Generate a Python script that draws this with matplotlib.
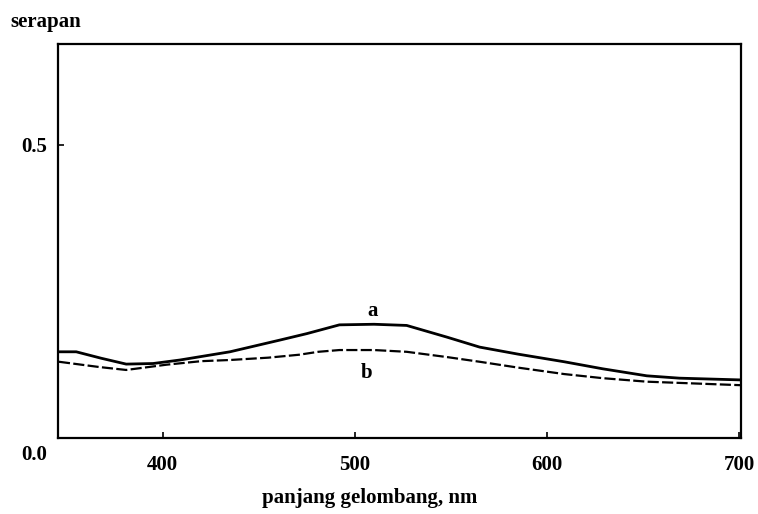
import numpy as np
import matplotlib
matplotlib.use('Agg')
import matplotlib.pyplot as plt
import matplotlib.transforms as mtransforms

# absorption spectra
wl_a = [346, 355, 368, 381, 395, 409, 422, 435, 448, 461, 475, 492, 510, 527, 548, 565, 585, 609, 629, 652, 669, 701]
abs_a = [0.147, 0.147, 0.136, 0.126, 0.127, 0.133, 0.140, 0.147, 0.157, 0.167, 0.178, 0.193, 0.194, 0.192, 0.172, 0.155, 0.143, 0.130, 0.118, 0.106, 0.102, 0.099]

wl_b = [346, 367, 381, 402, 420, 435, 455, 471, 481, 492, 510, 527, 548, 565, 585, 609, 629, 652, 701]
abs_b = [0.130, 0.121, 0.116, 0.125, 0.131, 0.133, 0.137, 0.142, 0.147, 0.150, 0.150, 0.147, 0.138, 0.130, 0.120, 0.109, 0.102, 0.096, 0.090]

x_ticks = [400, 500, 600, 700]
y_ticks = [0.0, 0.5]

plt.rcParams['font.family'] = ['Liberation Serif', 'DejaVu Serif']
plt.rcParams['font.weight'] = 'bold'

fig = plt.figure(figsize=(7.58, 5.14), dpi=100)
ax = fig.add_axes([0.0765, 0.148, 0.901, 0.766])

ax.plot(wl_a, abs_a, color='black', lw=2.0)
ax.plot(wl_b, abs_b, color='black', lw=1.6, ls=(0, (5, 1.5)))

ax.text(509, 0.217, 'a', fontsize=15, fontweight='bold', ha='center', va='center')
ax.text(506, 0.111, 'b', fontsize=15, fontweight='bold', ha='center', va='center')

ax.set_xlim(345.5, 701)
ax.set_ylim(0, 0.672)
ax.set_xticks(x_ticks)
ax.set_yticks(y_ticks)
ax.set_yticklabels([f'{v:.1f}' for v in y_ticks])
ax.tick_params(direction='in', length=4, width=1.2, labelsize=15)
ax.tick_params(axis='x', pad=12)
ax.tick_params(axis='y', pad=8)

for s in ax.spines.values():
    s.set_linewidth(1.6)

# nudge the 0.0 label down like in the scan
lbl0 = ax.get_yticklabels()[0]
lbl0.set_transform(lbl0.get_transform() + mtransforms.ScaledTranslation(0, -0.15, fig.dpi_scale_trans))

fig.text(10 / 758, 1 - 22 / 514, 'serapan', fontsize=15, fontweight='bold', ha='left', va='center')
fig.text(370 / 758, 1 - 498 / 514, 'panjang gelombang, nm', fontsize=15, fontweight='bold', ha='center', va='center')

fig.savefig('out.png', dpi=100)
